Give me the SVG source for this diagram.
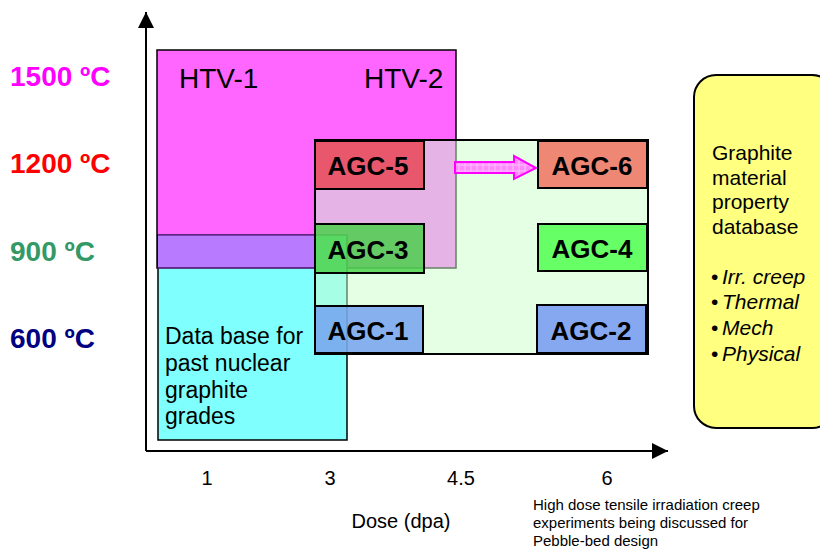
<svg xmlns="http://www.w3.org/2000/svg" width="820" height="550" viewBox="0 0 820 550">
<style>
text{font-family:"Liberation Sans",Arial,sans-serif;}
.ylab{font-size:28px;font-weight:bold;}
.agc{font-size:26px;font-weight:bold;fill:#000;text-anchor:middle;}
.big{font-size:28px;fill:#000;}
.db{font-size:23px;fill:#000;}
.yb{font-size:21px;fill:#000;}
.it{font-style:italic;}
.tick{font-size:20px;fill:#000;text-anchor:middle;}
.note{font-size:15px;fill:#000;}
.box{stroke:#000;stroke-width:2;}
</style>
<defs>
<marker id="ah" viewBox="0 0 16 16" refX="16" refY="8" markerWidth="16" markerHeight="16" markerUnits="userSpaceOnUse" orient="auto">
<path d="M0,0 L16,8 L0,16 z" fill="#000"/>
</marker>
<pattern id="hatch" width="6" height="6" patternUnits="userSpaceOnUse">
<rect width="6" height="6" fill="#ff88ff"/>
<path d="M0,3 H6 M3,0 V6" stroke="#ffc0ff" stroke-width="1"/>
</pattern>
</defs>

<g id="y-labels">
<text class="ylab" x="10" y="86" fill="#ff00ff">1500 ºC</text>
<text class="ylab" x="10" y="173" fill="#ff0000">1200 ºC</text>
<text class="ylab" x="10" y="261" fill="#339966">900 ºC</text>
<text class="ylab" x="10" y="348" fill="#000080">600 ºC</text>
</g>

<g id="htv">
<rect x="157" y="50" width="299" height="218" fill="#ff66ff" stroke="#000" stroke-width="1.5"/>
<text class="big" x="179" y="88">HTV-1</text>
<text class="big" x="364" y="88">HTV-2</text>
</g>

<g id="database">
<rect x="158" y="235" width="189" height="205" fill="#80ffff" stroke="#000" stroke-width="1.5"/>
<rect x="158" y="235" width="157" height="33" fill="#b87aff"/>
<line x1="158" y1="235" x2="347" y2="235" stroke="#6a2a90" stroke-width="1.5"/>
<line x1="157" y1="268" x2="315" y2="268" stroke="#4a0a60" stroke-width="1.5"/>
<text class="db" x="165" y="344">Data base for</text>
<text class="db" x="165" y="371">past nuclear</text>
<text class="db" x="165" y="398">graphite</text>
<text class="db" x="165" y="424">grades</text>
</g>

<g id="agc-region">
<rect x="315" y="140" width="333" height="214" fill="#ccffcc" fill-opacity="0.5" stroke="#000" stroke-width="2"/>
</g>

<g id="connectors">
<path d="M455,162 H514 V156 L536,168 L514,179 V173 H455 Z" fill="url(#hatch)" stroke="#ff00ff" stroke-width="2"/>
<line x1="146" y1="451" x2="146" y2="12" stroke="#000" stroke-width="2" marker-end="url(#ah)"/>
<line x1="146" y1="451" x2="668" y2="451" stroke="#000" stroke-width="2" marker-end="url(#ah)"/>
</g>

<g id="agc-5">
<rect class="box" x="315" y="141" width="109" height="48" fill="#ea4657" fill-opacity="0.85"/>
<text class="agc" x="368" y="175">AGC-5</text>
</g>
<g id="agc-6">
<rect class="box" x="538" y="141" width="109" height="47" fill="#f07a68" fill-opacity="0.9"/>
<text class="agc" x="592" y="175">AGC-6</text>
</g>
<g id="agc-3">
<rect class="box" x="315" y="224" width="109" height="49" fill="#44d044" fill-opacity="0.8"/>
<text class="agc" x="368" y="259">AGC-3</text>
</g>
<g id="agc-4">
<rect class="box" x="538" y="224" width="109" height="47" fill="#66ff66"/>
<text class="agc" x="592" y="258">AGC-4</text>
</g>
<g id="agc-1">
<rect class="box" x="315" y="306" width="108" height="47" fill="#6f9ef0" fill-opacity="0.8"/>
<text class="agc" x="368" y="340">AGC-1</text>
</g>
<g id="agc-2">
<rect class="box" x="537" y="305" width="109" height="48" fill="#86a8f0"/>
<text class="agc" x="591" y="340">AGC-2</text>
</g>

<g id="property-database">
<rect x="694" y="75" width="140" height="353" rx="22" ry="22" fill="#ffff80" stroke="#000" stroke-width="2"/>
<text class="yb" x="712" y="160">Graphite</text>
<text class="yb" x="712" y="185">material</text>
<text class="yb" x="712" y="209">property</text>
<text class="yb" x="712" y="234">database</text>
<text class="yb" x="711" y="284">•<tspan class="it" x="722">Irr. creep</tspan></text>
<text class="yb" x="711" y="309">•<tspan class="it" x="722">Thermal</tspan></text>
<text class="yb" x="711" y="335">•<tspan class="it" x="722">Mech</tspan></text>
<text class="yb" x="711" y="361">•<tspan class="it" x="722">Physical</tspan></text>
</g>

<g id="x-labels">
<text class="tick" x="207" y="485">1</text>
<text class="tick" x="330" y="485">3</text>
<text class="tick" x="461" y="485">4.5</text>
<text class="tick" x="607" y="485">6</text>
<text class="tick" x="401" y="528">Dose (dpa)</text>
<text class="note" x="533" y="510">High dose tensile irradiation creep</text>
<text class="note" x="533" y="528">experiments being discussed for</text>
<text class="note" x="533" y="546">Pebble-bed design</text>
</g>
</svg>
